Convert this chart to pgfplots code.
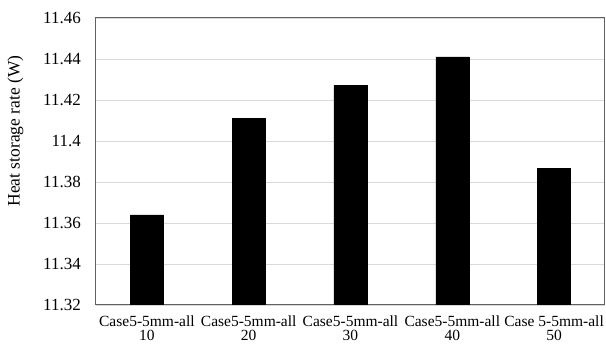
\documentclass[border=0pt]{standalone}
\usepackage{fontspec}
\setmainfont{Liberation Serif}
\usepackage{pgfplots}
\pgfplotsset{compat=1.18}
\begin{document}
\begin{tikzpicture}
\begin{axis}[
  scale only axis,
  width=509pt, height=287pt,
  ybar, bar width=33pt,
  ymin=11.32, ymax=11.46,
  ytick={11.32,11.34,11.36,11.38,11.40,11.42,11.44,11.46},
  yticklabels={11.32,11.34,11.36,11.38,11.4,11.42,11.44,11.46},
  xmin=-0.5, xmax=4.5,
  xtick={0,1,2,3,4},
  xticklabels={{Case5-5mm-all\\10},{Case5-5mm-all\\20},{Case5-5mm-all\\30},{Case5-5mm-all\\40},{Case 5-5mm-all\\50}},
  xticklabel style={align=center, font=\fontsize{15.5}{14}\selectfont, inner sep=0pt, anchor=north, yshift=-11pt},
  yticklabel style={font=\fontsize{17}{19}\selectfont, inner sep=0pt, anchor=east, xshift=-15pt},
  ylabel={Heat storage rate (W)},
  ylabel style={font=\fontsize{17.5}{19}\selectfont, at={(axis description cs:-0.1582,0.606)}, anchor=center, rotate=0},
  major tick length=0pt,
  ymajorgrids, grid style={color=black!15, line width=0.8pt},
  axis line style={color=black!62, line width=1pt},
  tick style={draw=none},
  enlargelimits=false,
]
\addplot[fill=black, draw=black] coordinates {(0,11.364) (1,11.411) (2,11.427) (3,11.441) (4,11.3865)};
\end{axis}
\pgfresetboundingbox
\path[use as bounding box] (-96pt,-40pt) rectangle (510pt,305pt);
\end{tikzpicture}
\end{document}
